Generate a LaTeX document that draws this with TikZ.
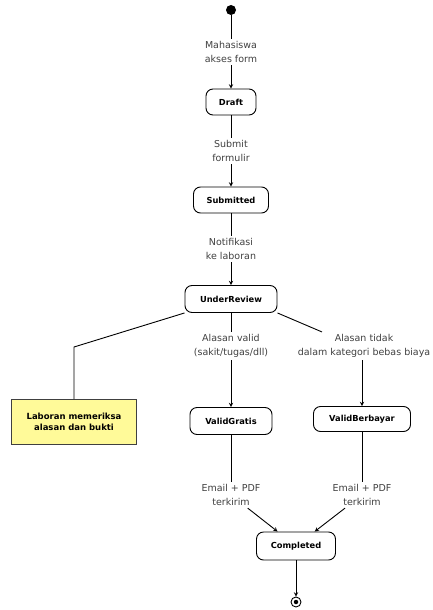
\documentclass[tikz,border=0pt]{standalone}
\usepackage{fontspec}
\setmainfont{DejaVu Sans}
\usetikzlibrary{arrows}

\begin{document}
\begin{tikzpicture}[x=1pt, y=-1pt,
	state/.style={draw, rounded corners=7pt, line width=0.9pt, inner sep=0pt, font=\bfseries\fontsize{8.3}{9}\selectfont},
	lbl/.style={align=center, inner sep=2pt, font=\fontsize{9.5}{14.5}\selectfont, text=black!75},
	note/.style={draw=black!75, line width=0.9pt, fill=yellow!40, align=center, font=\bfseries\fontsize{8.5}{11.5}\selectfont},
	flow/.style={line width=0.9pt, -stealth}]
	\useasboundingbox (0,0) rectangle (432,610);
	\node[circle, fill, minimum size=10pt, inner sep=0pt] (start) at (231, 10) {};
	\node[lbl] (l1) at (231, 52) {Mahasiswa\\akses form};
	\node[state, minimum width=50pt, minimum height=26pt] (draft) at (231, 102) {Draft};
	\node[lbl] (l2) at (231, 151) {Submit\\formulir};
	\node[state, minimum width=75pt, minimum height=26pt] (submitted) at (231, 200) {Submitted};
	\node[lbl] (l3) at (231, 249) {Notifikasi\\ke laboran};
	\node[state, minimum width=92pt, minimum height=27pt] (review) at (231, 299) {UnderReview};
	\node[lbl] (l4) at (231, 346) {Alasan valid\\(sakit/tugas/dll)};
	\node[lbl] (l5) at (364, 346) {Alasan tidak\\dalam kategori bebas biaya};
	\coordinate (k1) at (74, 347);
	\node[note, minimum width=125pt, minimum height=45pt] (note) at (74, 422) {Laboran memeriksa\\alasan dan bukti};
	\node[state, minimum width=82pt, minimum height=27pt] (gratis) at (231, 421) {ValidGratis};
	\node[state, minimum width=97pt, minimum height=25pt] (berbayar) at (362, 419) {ValidBerbayar};
	\node[lbl] (l6) at (231, 495) {Email + PDF\\terkirim};
	\node[lbl] (l7) at (362, 495) {Email + PDF\\terkirim};
	\node[state, minimum width=79pt, minimum height=28pt] (completed) at (296, 546) {Completed};
	\node[circle, draw, line width=0.9pt, minimum size=10pt, inner sep=0pt] (end) at (296, 602) {};
	\node[circle, fill, minimum size=4.5pt, inner sep=0pt] (endin) at (end) {};
	% alur utama
	\draw[line width=0.9pt] (start) -- (l1);
	\draw[flow] (l1) -- (draft);
	\draw[line width=0.9pt] (draft) -- (l2);
	\draw[flow] (l2) -- (submitted);
	\draw[line width=0.9pt] (submitted) -- (l3);
	\draw[flow] (l3) -- (review);
	% percabangan
	\draw[line width=0.9pt] (review.south west) -- (k1) -- (note.north);
	\draw[line width=0.9pt] (review) -- (l4);
	\draw[flow] (l4) -- (gratis);
	\draw[line width=0.9pt] (review.south east) -- ([xshift=-42pt]l5.north);
	\draw[flow] (l5.south -| berbayar) -- (berbayar);
	\draw[line width=0.9pt] (gratis) -- (l6);
	\draw[line width=0.9pt] (berbayar) -- (l7);
	\draw[flow] (l6) -- (completed);
	\draw[flow] (l7) -- (completed);
	\draw[flow] (completed) -- (end);
\end{tikzpicture}
\end{document}
